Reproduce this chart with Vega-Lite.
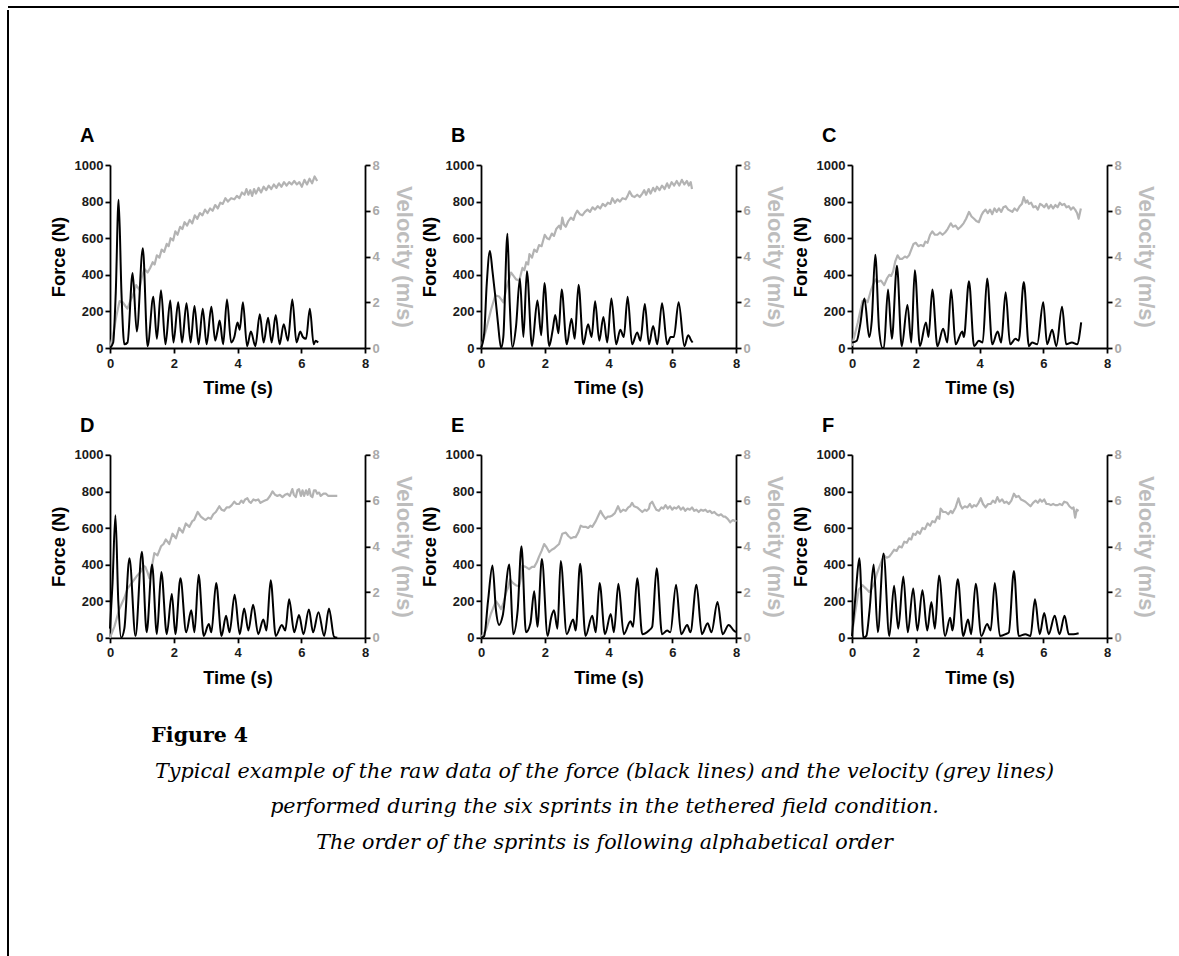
{
  "$schema": "https://vega.github.io/schema/vega-lite/v6.json",
  "padding": {"left": 6, "top": 6, "right": 0, "bottom": 0},
  "background": "white",
  "spacing": 0,
  "datasets": {
    "force": [
      {"p":"A","t":0,"f":0},{"p":"A","t":0.1,"f":30},{"p":"A","t":0.18,"f":300},{"p":"A","t":0.27,"f":810},{"p":"A","t":0.36,"f":300},{"p":"A","t":0.45,"f":20},{"p":"A","t":0.55,"f":30},{"p":"A","t":0.71,"f":410},{"p":"A","t":0.84,"f":90},{"p":"A","t":1.03,"f":545},{"p":"A","t":1.18,"f":10},{"p":"A","t":1.36,"f":280},{"p":"A","t":1.47,"f":50},{"p":"A","t":1.6,"f":315},{"p":"A","t":1.74,"f":20},{"p":"A","t":1.89,"f":260},{"p":"A","t":1.99,"f":30},{"p":"A","t":2.14,"f":250},{"p":"A","t":2.26,"f":30},{"p":"A","t":2.4,"f":245},{"p":"A","t":2.53,"f":30},{"p":"A","t":2.65,"f":230},{"p":"A","t":2.78,"f":20},{"p":"A","t":2.91,"f":215},{"p":"A","t":3.03,"f":20},{"p":"A","t":3.18,"f":225},{"p":"A","t":3.3,"f":40},{"p":"A","t":3.38,"f":100},{"p":"A","t":3.44,"f":150},{"p":"A","t":3.55,"f":20},{"p":"A","t":3.67,"f":265},{"p":"A","t":3.8,"f":30},{"p":"A","t":3.9,"f":60},{"p":"A","t":4.0,"f":140},{"p":"A","t":4.07,"f":100},{"p":"A","t":4.17,"f":250},{"p":"A","t":4.3,"f":10},{"p":"A","t":4.42,"f":90},{"p":"A","t":4.56,"f":10},{"p":"A","t":4.7,"f":185},{"p":"A","t":4.82,"f":30},{"p":"A","t":4.96,"f":165},{"p":"A","t":5.07,"f":30},{"p":"A","t":5.2,"f":180},{"p":"A","t":5.32,"f":20},{"p":"A","t":5.45,"f":130},{"p":"A","t":5.58,"f":40},{"p":"A","t":5.72,"f":265},{"p":"A","t":5.85,"f":30},{"p":"A","t":5.97,"f":90},{"p":"A","t":6.05,"f":60},{"p":"A","t":6.15,"f":50},{"p":"A","t":6.27,"f":215},{"p":"A","t":6.39,"f":20},{"p":"A","t":6.45,"f":40},{"p":"A","t":6.53,"f":30},
      {"p":"B","t":0,"f":0},{"p":"B","t":0.1,"f":80},{"p":"B","t":0.18,"f":350},{"p":"B","t":0.28,"f":530},{"p":"B","t":0.36,"f":420},{"p":"B","t":0.45,"f":280},{"p":"B","t":0.53,"f":140},{"p":"B","t":0.63,"f":0},{"p":"B","t":0.7,"f":60},{"p":"B","t":0.83,"f":625},{"p":"B","t":0.9,"f":250},{"p":"B","t":0.99,"f":5},{"p":"B","t":1.1,"f":120},{"p":"B","t":1.22,"f":380},{"p":"B","t":1.33,"f":60},{"p":"B","t":1.44,"f":420},{"p":"B","t":1.6,"f":10},{"p":"B","t":1.77,"f":260},{"p":"B","t":1.89,"f":70},{"p":"B","t":1.99,"f":355},{"p":"B","t":2.14,"f":10},{"p":"B","t":2.25,"f":100},{"p":"B","t":2.33,"f":180},{"p":"B","t":2.43,"f":80},{"p":"B","t":2.53,"f":320},{"p":"B","t":2.69,"f":20},{"p":"B","t":2.84,"f":160},{"p":"B","t":2.94,"f":50},{"p":"B","t":3.06,"f":345},{"p":"B","t":3.21,"f":20},{"p":"B","t":3.36,"f":130},{"p":"B","t":3.47,"f":60},{"p":"B","t":3.58,"f":255},{"p":"B","t":3.71,"f":40},{"p":"B","t":3.84,"f":170},{"p":"B","t":3.96,"f":30},{"p":"B","t":4.09,"f":270},{"p":"B","t":4.24,"f":20},{"p":"B","t":4.37,"f":100},{"p":"B","t":4.48,"f":60},{"p":"B","t":4.6,"f":280},{"p":"B","t":4.74,"f":20},{"p":"B","t":4.9,"f":85},{"p":"B","t":5.0,"f":40},{"p":"B","t":5.14,"f":240},{"p":"B","t":5.27,"f":20},{"p":"B","t":5.4,"f":120},{"p":"B","t":5.53,"f":20},{"p":"B","t":5.68,"f":245},{"p":"B","t":5.84,"f":20},{"p":"B","t":5.95,"f":60},{"p":"B","t":6.05,"f":60},{"p":"B","t":6.2,"f":250},{"p":"B","t":6.38,"f":10},{"p":"B","t":6.5,"f":70},{"p":"B","t":6.6,"f":40},{"p":"B","t":6.64,"f":30},
      {"p":"C","t":0,"f":30},{"p":"C","t":0.15,"f":40},{"p":"C","t":0.25,"f":120},{"p":"C","t":0.39,"f":270},{"p":"C","t":0.54,"f":60},{"p":"C","t":0.62,"f":150},{"p":"C","t":0.73,"f":510},{"p":"C","t":0.85,"f":100},{"p":"C","t":0.96,"f":0},{"p":"C","t":1.0,"f":0},{"p":"C","t":1.13,"f":320},{"p":"C","t":1.25,"f":50},{"p":"C","t":1.41,"f":450},{"p":"C","t":1.56,"f":10},{"p":"C","t":1.74,"f":235},{"p":"C","t":1.86,"f":30},{"p":"C","t":1.97,"f":425},{"p":"C","t":2.13,"f":10},{"p":"C","t":2.32,"f":140},{"p":"C","t":2.4,"f":60},{"p":"C","t":2.52,"f":320},{"p":"C","t":2.68,"f":10},{"p":"C","t":2.86,"f":105},{"p":"C","t":2.99,"f":30},{"p":"C","t":3.11,"f":320},{"p":"C","t":3.25,"f":20},{"p":"C","t":3.46,"f":90},{"p":"C","t":3.51,"f":60},{"p":"C","t":3.67,"f":365},{"p":"C","t":3.83,"f":10},{"p":"C","t":3.98,"f":40},{"p":"C","t":4.1,"f":30},{"p":"C","t":4.24,"f":380},{"p":"C","t":4.4,"f":20},{"p":"C","t":4.57,"f":90},{"p":"C","t":4.68,"f":30},{"p":"C","t":4.82,"f":305},{"p":"C","t":4.96,"f":20},{"p":"C","t":5.13,"f":50},{"p":"C","t":5.23,"f":40},{"p":"C","t":5.39,"f":360},{"p":"C","t":5.55,"f":10},{"p":"C","t":5.65,"f":30},{"p":"C","t":5.81,"f":20},{"p":"C","t":6.0,"f":250},{"p":"C","t":6.12,"f":20},{"p":"C","t":6.28,"f":100},{"p":"C","t":6.41,"f":10},{"p":"C","t":6.59,"f":225},{"p":"C","t":6.72,"f":20},{"p":"C","t":6.9,"f":30},{"p":"C","t":7.06,"f":20},{"p":"C","t":7.19,"f":140},
      {"p":"D","t":0,"f":50},{"p":"D","t":0.08,"f":300},{"p":"D","t":0.17,"f":670},{"p":"D","t":0.26,"f":200},{"p":"D","t":0.35,"f":0},{"p":"D","t":0.45,"f":50},{"p":"D","t":0.61,"f":435},{"p":"D","t":0.8,"f":10},{"p":"D","t":1.0,"f":470},{"p":"D","t":1.15,"f":30},{"p":"D","t":1.32,"f":400},{"p":"D","t":1.47,"f":20},{"p":"D","t":1.61,"f":360},{"p":"D","t":1.78,"f":20},{"p":"D","t":1.94,"f":240},{"p":"D","t":2.05,"f":20},{"p":"D","t":2.21,"f":325},{"p":"D","t":2.39,"f":30},{"p":"D","t":2.55,"f":150},{"p":"D","t":2.65,"f":30},{"p":"D","t":2.78,"f":345},{"p":"D","t":2.94,"f":10},{"p":"D","t":3.1,"f":75},{"p":"D","t":3.18,"f":30},{"p":"D","t":3.33,"f":300},{"p":"D","t":3.5,"f":10},{"p":"D","t":3.64,"f":120},{"p":"D","t":3.75,"f":30},{"p":"D","t":3.91,"f":235},{"p":"D","t":4.07,"f":20},{"p":"D","t":4.21,"f":160},{"p":"D","t":4.34,"f":40},{"p":"D","t":4.49,"f":180},{"p":"D","t":4.65,"f":20},{"p":"D","t":4.81,"f":100},{"p":"D","t":4.91,"f":40},{"p":"D","t":5.04,"f":315},{"p":"D","t":5.2,"f":10},{"p":"D","t":5.39,"f":70},{"p":"D","t":5.5,"f":40},{"p":"D","t":5.62,"f":210},{"p":"D","t":5.78,"f":30},{"p":"D","t":5.93,"f":125},{"p":"D","t":6.07,"f":20},{"p":"D","t":6.24,"f":155},{"p":"D","t":6.37,"f":30},{"p":"D","t":6.54,"f":140},{"p":"D","t":6.72,"f":10},{"p":"D","t":6.87,"f":160},{"p":"D","t":7.03,"f":5},{"p":"D","t":7.13,"f":0},
      {"p":"E","t":0,"f":0},{"p":"E","t":0.1,"f":10},{"p":"E","t":0.22,"f":200},{"p":"E","t":0.36,"f":395},{"p":"E","t":0.47,"f":150},{"p":"E","t":0.57,"f":70},{"p":"E","t":0.68,"f":120},{"p":"E","t":0.89,"f":400},{"p":"E","t":1.01,"f":20},{"p":"E","t":1.15,"f":150},{"p":"E","t":1.27,"f":500},{"p":"E","t":1.41,"f":30},{"p":"E","t":1.55,"f":80},{"p":"E","t":1.67,"f":255},{"p":"E","t":1.77,"f":60},{"p":"E","t":1.91,"f":430},{"p":"E","t":2.09,"f":10},{"p":"E","t":2.2,"f":110},{"p":"E","t":2.29,"f":150},{"p":"E","t":2.4,"f":50},{"p":"E","t":2.5,"f":420},{"p":"E","t":2.69,"f":20},{"p":"E","t":2.89,"f":100},{"p":"E","t":2.97,"f":40},{"p":"E","t":3.11,"f":405},{"p":"E","t":3.28,"f":10},{"p":"E","t":3.49,"f":120},{"p":"E","t":3.6,"f":30},{"p":"E","t":3.72,"f":300},{"p":"E","t":3.89,"f":20},{"p":"E","t":4.07,"f":130},{"p":"E","t":4.17,"f":30},{"p":"E","t":4.31,"f":295},{"p":"E","t":4.48,"f":20},{"p":"E","t":4.69,"f":90},{"p":"E","t":4.77,"f":60},{"p":"E","t":4.9,"f":325},{"p":"E","t":5.06,"f":20},{"p":"E","t":5.27,"f":40},{"p":"E","t":5.37,"f":60},{"p":"E","t":5.51,"f":380},{"p":"E","t":5.68,"f":20},{"p":"E","t":5.84,"f":40},{"p":"E","t":5.94,"f":30},{"p":"E","t":6.12,"f":290},{"p":"E","t":6.28,"f":20},{"p":"E","t":6.47,"f":70},{"p":"E","t":6.57,"f":30},{"p":"E","t":6.76,"f":290},{"p":"E","t":6.93,"f":20},{"p":"E","t":7.11,"f":80},{"p":"E","t":7.23,"f":30},{"p":"E","t":7.42,"f":195},{"p":"E","t":7.58,"f":20},{"p":"E","t":7.77,"f":70},{"p":"E","t":7.93,"f":40},{"p":"E","t":8.0,"f":30},
      {"p":"F","t":0,"f":10},{"p":"F","t":0.12,"f":250},{"p":"F","t":0.23,"f":435},{"p":"F","t":0.36,"f":0},{"p":"F","t":0.45,"f":10},{"p":"F","t":0.55,"f":150},{"p":"F","t":0.68,"f":400},{"p":"F","t":0.81,"f":30},{"p":"F","t":0.99,"f":460},{"p":"F","t":1.17,"f":10},{"p":"F","t":1.32,"f":285},{"p":"F","t":1.45,"f":50},{"p":"F","t":1.61,"f":335},{"p":"F","t":1.75,"f":30},{"p":"F","t":1.92,"f":270},{"p":"F","t":2.05,"f":40},{"p":"F","t":2.21,"f":260},{"p":"F","t":2.36,"f":40},{"p":"F","t":2.49,"f":195},{"p":"F","t":2.6,"f":50},{"p":"F","t":2.73,"f":340},{"p":"F","t":2.92,"f":10},{"p":"F","t":3.08,"f":110},{"p":"F","t":3.15,"f":40},{"p":"F","t":3.32,"f":320},{"p":"F","t":3.49,"f":10},{"p":"F","t":3.64,"f":100},{"p":"F","t":3.74,"f":20},{"p":"F","t":3.88,"f":295},{"p":"F","t":4.06,"f":10},{"p":"F","t":4.24,"f":75},{"p":"F","t":4.35,"f":40},{"p":"F","t":4.48,"f":300},{"p":"F","t":4.64,"f":10},{"p":"F","t":4.82,"f":20},{"p":"F","t":4.92,"f":30},{"p":"F","t":5.08,"f":365},{"p":"F","t":5.23,"f":10},{"p":"F","t":5.44,"f":20},{"p":"F","t":5.6,"f":10},{"p":"F","t":5.74,"f":210},{"p":"F","t":5.89,"f":20},{"p":"F","t":6.03,"f":135},{"p":"F","t":6.17,"f":20},{"p":"F","t":6.36,"f":120},{"p":"F","t":6.51,"f":20},{"p":"F","t":6.67,"f":120},{"p":"F","t":6.8,"f":20},{"p":"F","t":6.95,"f":20},{"p":"F","t":7.11,"f":25}
    ],
    "vel": [
      {"p":"A","t":0,"v":0},{"p":"A","t":0.1,"v":0.6},{"p":"A","t":0.2,"v":1.4},{"p":"A","t":0.3,"v":2.05},{"p":"A","t":0.4,"v":2.0},{"p":"A","t":0.5,"v":1.8},{"p":"A","t":0.55,"v":1.72},{"p":"A","t":0.65,"v":2.1},{"p":"A","t":0.72,"v":2.3},{"p":"A","t":0.82,"v":2.75},{"p":"A","t":0.92,"v":2.55},{"p":"A","t":1.0,"v":3.1},{"p":"A","t":1.08,"v":3.45},{"p":"A","t":1.18,"v":3.3},{"p":"A","t":1.26,"v":3.5},{"p":"A","t":1.34,"v":3.75},{"p":"A","t":1.4,"v":3.65},{"p":"A","t":1.47,"v":4.05},{"p":"A","t":1.55,"v":3.95},{"p":"A","t":1.62,"v":4.3},{"p":"A","t":1.7,"v":4.2},{"p":"A","t":1.78,"v":4.55},{"p":"A","t":1.84,"v":4.45},{"p":"A","t":1.9,"v":4.8},{"p":"A","t":1.98,"v":4.7},{"p":"A","t":2.05,"v":5.1},{"p":"A","t":2.12,"v":4.95},{"p":"A","t":2.2,"v":5.3},{"p":"A","t":2.27,"v":5.2},{"p":"A","t":2.34,"v":5.5},{"p":"A","t":2.42,"v":5.35},{"p":"A","t":2.5,"v":5.6},{"p":"A","t":2.58,"v":5.45},{"p":"A","t":2.66,"v":5.8},{"p":"A","t":2.74,"v":5.65},{"p":"A","t":2.82,"v":5.9},{"p":"A","t":2.9,"v":5.8},{"p":"A","t":2.98,"v":6.05},{"p":"A","t":3.06,"v":5.9},{"p":"A","t":3.14,"v":6.1},{"p":"A","t":3.22,"v":6.0},{"p":"A","t":3.3,"v":6.25},{"p":"A","t":3.38,"v":6.1},{"p":"A","t":3.46,"v":6.35},{"p":"A","t":3.54,"v":6.3},{"p":"A","t":3.62,"v":6.55},{"p":"A","t":3.7,"v":6.4},{"p":"A","t":3.8,"v":6.55},{"p":"A","t":3.9,"v":6.5},{"p":"A","t":3.98,"v":6.65},{"p":"A","t":4.06,"v":6.55},{"p":"A","t":4.14,"v":6.8},{"p":"A","t":4.22,"v":6.7},{"p":"A","t":4.28,"v":6.95},{"p":"A","t":4.34,"v":6.7},{"p":"A","t":4.4,"v":6.9},{"p":"A","t":4.46,"v":6.65},{"p":"A","t":4.52,"v":6.95},{"p":"A","t":4.58,"v":6.75},{"p":"A","t":4.66,"v":7.0},{"p":"A","t":4.74,"v":6.8},{"p":"A","t":4.82,"v":7.05},{"p":"A","t":4.9,"v":6.9},{"p":"A","t":4.98,"v":7.1},{"p":"A","t":5.06,"v":6.95},{"p":"A","t":5.14,"v":7.15},{"p":"A","t":5.22,"v":7.0},{"p":"A","t":5.3,"v":7.2},{"p":"A","t":5.38,"v":7.05},{"p":"A","t":5.46,"v":7.25},{"p":"A","t":5.54,"v":7.1},{"p":"A","t":5.62,"v":7.25},{"p":"A","t":5.7,"v":7.15},{"p":"A","t":5.78,"v":7.3},{"p":"A","t":5.86,"v":7.15},{"p":"A","t":5.94,"v":7.25},{"p":"A","t":6.02,"v":7.05},{"p":"A","t":6.1,"v":7.35},{"p":"A","t":6.18,"v":7.15},{"p":"A","t":6.26,"v":7.4},{"p":"A","t":6.34,"v":7.2},{"p":"A","t":6.42,"v":7.5},{"p":"A","t":6.5,"v":7.3},
      {"p":"B","t":0,"v":0},{"p":"B","t":0.16,"v":0.8},{"p":"B","t":0.31,"v":1.65},{"p":"B","t":0.45,"v":2.3},{"p":"B","t":0.57,"v":2.25},{"p":"B","t":0.7,"v":2.0},{"p":"B","t":0.83,"v":2.8},{"p":"B","t":0.94,"v":3.3},{"p":"B","t":1.02,"v":3.15},{"p":"B","t":1.1,"v":3.0},{"p":"B","t":1.2,"v":2.95},{"p":"B","t":1.3,"v":3.5},{"p":"B","t":1.36,"v":3.4},{"p":"B","t":1.42,"v":3.75},{"p":"B","t":1.48,"v":3.65},{"p":"B","t":1.52,"v":4.1},{"p":"B","t":1.6,"v":3.95},{"p":"B","t":1.67,"v":4.3},{"p":"B","t":1.75,"v":4.2},{"p":"B","t":1.82,"v":4.5},{"p":"B","t":1.9,"v":4.45},{"p":"B","t":2.0,"v":4.95},{"p":"B","t":2.07,"v":4.8},{"p":"B","t":2.14,"v":4.75},{"p":"B","t":2.22,"v":5.0},{"p":"B","t":2.29,"v":4.9},{"p":"B","t":2.36,"v":5.2},{"p":"B","t":2.45,"v":5.35},{"p":"B","t":2.5,"v":5.2},{"p":"B","t":2.55,"v":5.7},{"p":"B","t":2.6,"v":5.4},{"p":"B","t":2.66,"v":5.3},{"p":"B","t":2.74,"v":5.55},{"p":"B","t":2.82,"v":5.7},{"p":"B","t":2.9,"v":5.6},{"p":"B","t":2.96,"v":5.85},{"p":"B","t":3.02,"v":6.0},{"p":"B","t":3.1,"v":5.85},{"p":"B","t":3.18,"v":5.8},{"p":"B","t":3.26,"v":5.95},{"p":"B","t":3.34,"v":6.05},{"p":"B","t":3.42,"v":5.95},{"p":"B","t":3.5,"v":6.15},{"p":"B","t":3.58,"v":6.05},{"p":"B","t":3.66,"v":6.2},{"p":"B","t":3.74,"v":6.1},{"p":"B","t":3.82,"v":6.3},{"p":"B","t":3.9,"v":6.2},{"p":"B","t":3.98,"v":6.35},{"p":"B","t":4.06,"v":6.3},{"p":"B","t":4.12,"v":6.55},{"p":"B","t":4.2,"v":6.35},{"p":"B","t":4.28,"v":6.5},{"p":"B","t":4.36,"v":6.4},{"p":"B","t":4.44,"v":6.55},{"p":"B","t":4.54,"v":6.5},{"p":"B","t":4.6,"v":6.65},{"p":"B","t":4.66,"v":6.85},{"p":"B","t":4.74,"v":6.65},{"p":"B","t":4.82,"v":6.6},{"p":"B","t":4.9,"v":6.7},{"p":"B","t":4.98,"v":6.6},{"p":"B","t":5.06,"v":6.75},{"p":"B","t":5.12,"v":6.9},{"p":"B","t":5.18,"v":6.7},{"p":"B","t":5.26,"v":6.95},{"p":"B","t":5.32,"v":6.75},{"p":"B","t":5.4,"v":7.0},{"p":"B","t":5.46,"v":6.85},{"p":"B","t":5.52,"v":7.05},{"p":"B","t":5.6,"v":6.9},{"p":"B","t":5.68,"v":7.1},{"p":"B","t":5.76,"v":6.95},{"p":"B","t":5.84,"v":7.2},{"p":"B","t":5.9,"v":7.0},{"p":"B","t":5.98,"v":7.25},{"p":"B","t":6.06,"v":7.1},{"p":"B","t":6.14,"v":7.3},{"p":"B","t":6.22,"v":7.1},{"p":"B","t":6.3,"v":7.35},{"p":"B","t":6.38,"v":7.15},{"p":"B","t":6.46,"v":7.3},{"p":"B","t":6.52,"v":7.1},{"p":"B","t":6.58,"v":7.25},{"p":"B","t":6.62,"v":6.95},
      {"p":"C","t":0,"v":0.1},{"p":"C","t":0.18,"v":1.1},{"p":"C","t":0.33,"v":2.05},{"p":"C","t":0.42,"v":2.1},{"p":"C","t":0.49,"v":2.0},{"p":"C","t":0.59,"v":2.5},{"p":"C","t":0.67,"v":2.8},{"p":"C","t":0.75,"v":3.0},{"p":"C","t":0.83,"v":2.9},{"p":"C","t":0.91,"v":2.95},{"p":"C","t":1.01,"v":2.75},{"p":"C","t":1.1,"v":3.05},{"p":"C","t":1.17,"v":3.2},{"p":"C","t":1.23,"v":3.15},{"p":"C","t":1.29,"v":3.35},{"p":"C","t":1.36,"v":3.8},{"p":"C","t":1.43,"v":4.05},{"p":"C","t":1.5,"v":3.9},{"p":"C","t":1.58,"v":3.9},{"p":"C","t":1.66,"v":4.0},{"p":"C","t":1.72,"v":3.95},{"p":"C","t":1.79,"v":4.05},{"p":"C","t":1.86,"v":4.3},{"p":"C","t":1.93,"v":4.55},{"p":"C","t":2.0,"v":4.6},{"p":"C","t":2.08,"v":4.45},{"p":"C","t":2.16,"v":4.5},{"p":"C","t":2.24,"v":4.45},{"p":"C","t":2.3,"v":4.65},{"p":"C","t":2.37,"v":4.6},{"p":"C","t":2.45,"v":4.95},{"p":"C","t":2.52,"v":5.1},{"p":"C","t":2.6,"v":4.95},{"p":"C","t":2.68,"v":4.95},{"p":"C","t":2.76,"v":5.05},{"p":"C","t":2.84,"v":4.95},{"p":"C","t":2.92,"v":5.05},{"p":"C","t":3.0,"v":5.2},{"p":"C","t":3.1,"v":5.45},{"p":"C","t":3.17,"v":5.3},{"p":"C","t":3.25,"v":5.35},{"p":"C","t":3.33,"v":5.2},{"p":"C","t":3.41,"v":5.3},{"p":"C","t":3.5,"v":5.45},{"p":"C","t":3.58,"v":5.65},{"p":"C","t":3.67,"v":5.95},{"p":"C","t":3.75,"v":5.75},{"p":"C","t":3.83,"v":5.65},{"p":"C","t":3.9,"v":5.55},{"p":"C","t":3.98,"v":5.5},{"p":"C","t":4.06,"v":5.8},{"p":"C","t":4.12,"v":5.95},{"p":"C","t":4.19,"v":6.05},{"p":"C","t":4.26,"v":5.9},{"p":"C","t":4.33,"v":6.05},{"p":"C","t":4.4,"v":5.85},{"p":"C","t":4.47,"v":6.1},{"p":"C","t":4.54,"v":5.95},{"p":"C","t":4.61,"v":6.1},{"p":"C","t":4.68,"v":5.95},{"p":"C","t":4.75,"v":6.15},{"p":"C","t":4.82,"v":6.2},{"p":"C","t":4.9,"v":6.05},{"p":"C","t":4.97,"v":6.0},{"p":"C","t":5.03,"v":5.95},{"p":"C","t":5.1,"v":6.1},{"p":"C","t":5.18,"v":6.0},{"p":"C","t":5.26,"v":6.2},{"p":"C","t":5.33,"v":6.3},{"p":"C","t":5.39,"v":6.6},{"p":"C","t":5.45,"v":6.35},{"p":"C","t":5.5,"v":6.45},{"p":"C","t":5.55,"v":6.3},{"p":"C","t":5.62,"v":6.35},{"p":"C","t":5.69,"v":6.15},{"p":"C","t":5.76,"v":6.2},{"p":"C","t":5.83,"v":6.05},{"p":"C","t":5.9,"v":6.3},{"p":"C","t":5.96,"v":6.25},{"p":"C","t":6.03,"v":6.15},{"p":"C","t":6.1,"v":6.3},{"p":"C","t":6.17,"v":6.1},{"p":"C","t":6.24,"v":6.25},{"p":"C","t":6.31,"v":6.1},{"p":"C","t":6.38,"v":6.25},{"p":"C","t":6.45,"v":6.15},{"p":"C","t":6.52,"v":6.35},{"p":"C","t":6.59,"v":6.25},{"p":"C","t":6.66,"v":6.3},{"p":"C","t":6.73,"v":6.15},{"p":"C","t":6.8,"v":6.2},{"p":"C","t":6.87,"v":6.05},{"p":"C","t":6.94,"v":6.15},{"p":"C","t":7.0,"v":6.05},{"p":"C","t":7.06,"v":5.9},{"p":"C","t":7.11,"v":5.65},{"p":"C","t":7.18,"v":6.1},
      {"p":"D","t":0,"v":0},{"p":"D","t":0.14,"v":0.5},{"p":"D","t":0.29,"v":1.25},{"p":"D","t":0.45,"v":1.75},{"p":"D","t":0.55,"v":2.15},{"p":"D","t":0.63,"v":2.3},{"p":"D","t":0.71,"v":2.45},{"p":"D","t":0.84,"v":2.7},{"p":"D","t":0.97,"v":2.9},{"p":"D","t":1.05,"v":3.15},{"p":"D","t":1.11,"v":3.1},{"p":"D","t":1.18,"v":2.85},{"p":"D","t":1.24,"v":2.6},{"p":"D","t":1.3,"v":3.0},{"p":"D","t":1.39,"v":3.7},{"p":"D","t":1.49,"v":3.6},{"p":"D","t":1.6,"v":4.0},{"p":"D","t":1.68,"v":4.1},{"p":"D","t":1.75,"v":4.3},{"p":"D","t":1.86,"v":4.1},{"p":"D","t":1.96,"v":4.55},{"p":"D","t":2.07,"v":4.35},{"p":"D","t":2.17,"v":4.8},{"p":"D","t":2.28,"v":4.6},{"p":"D","t":2.38,"v":5.0},{"p":"D","t":2.49,"v":4.85},{"p":"D","t":2.58,"v":5.1},{"p":"D","t":2.64,"v":5.15},{"p":"D","t":2.75,"v":5.5},{"p":"D","t":2.85,"v":5.3},{"p":"D","t":2.94,"v":5.2},{"p":"D","t":3.0,"v":5.15},{"p":"D","t":3.08,"v":5.25},{"p":"D","t":3.16,"v":5.2},{"p":"D","t":3.24,"v":5.4},{"p":"D","t":3.32,"v":5.5},{"p":"D","t":3.43,"v":5.75},{"p":"D","t":3.5,"v":5.6},{"p":"D","t":3.58,"v":5.55},{"p":"D","t":3.66,"v":5.7},{"p":"D","t":3.74,"v":5.7},{"p":"D","t":3.82,"v":5.8},{"p":"D","t":3.9,"v":5.95},{"p":"D","t":3.97,"v":5.85},{"p":"D","t":4.05,"v":5.85},{"p":"D","t":4.12,"v":6.0},{"p":"D","t":4.18,"v":5.9},{"p":"D","t":4.24,"v":6.05},{"p":"D","t":4.31,"v":6.1},{"p":"D","t":4.37,"v":5.95},{"p":"D","t":4.42,"v":5.9},{"p":"D","t":4.5,"v":6.05},{"p":"D","t":4.57,"v":6.0},{"p":"D","t":4.65,"v":6.05},{"p":"D","t":4.72,"v":5.9},{"p":"D","t":4.78,"v":5.95},{"p":"D","t":4.86,"v":6.0},{"p":"D","t":4.94,"v":6.05},{"p":"D","t":5.02,"v":6.2},{"p":"D","t":5.1,"v":6.4},{"p":"D","t":5.18,"v":6.25},{"p":"D","t":5.25,"v":6.2},{"p":"D","t":5.33,"v":6.25},{"p":"D","t":5.41,"v":6.15},{"p":"D","t":5.49,"v":6.25},{"p":"D","t":5.57,"v":6.3},{"p":"D","t":5.64,"v":6.2},{"p":"D","t":5.72,"v":6.5},{"p":"D","t":5.77,"v":6.25},{"p":"D","t":5.83,"v":6.15},{"p":"D","t":5.88,"v":6.45},{"p":"D","t":5.93,"v":6.5},{"p":"D","t":5.99,"v":6.2},{"p":"D","t":6.04,"v":6.45},{"p":"D","t":6.09,"v":6.2},{"p":"D","t":6.15,"v":6.45},{"p":"D","t":6.2,"v":6.25},{"p":"D","t":6.25,"v":6.5},{"p":"D","t":6.3,"v":6.2},{"p":"D","t":6.35,"v":6.15},{"p":"D","t":6.4,"v":6.45},{"p":"D","t":6.45,"v":6.45},{"p":"D","t":6.5,"v":6.3},{"p":"D","t":6.56,"v":6.35},{"p":"D","t":6.61,"v":6.2},{"p":"D","t":6.7,"v":6.3},{"p":"D","t":6.77,"v":6.3},{"p":"D","t":6.85,"v":6.2},{"p":"D","t":6.92,"v":6.2},{"p":"D","t":7.0,"v":6.2},{"p":"D","t":7.13,"v":6.2},
      {"p":"E","t":0,"v":0},{"p":"E","t":0.16,"v":0.35},{"p":"E","t":0.31,"v":1.05},{"p":"E","t":0.47,"v":1.6},{"p":"E","t":0.55,"v":1.45},{"p":"E","t":0.63,"v":1.25},{"p":"E","t":0.7,"v":1.5},{"p":"E","t":0.78,"v":1.95},{"p":"E","t":0.85,"v":2.2},{"p":"E","t":0.91,"v":2.55},{"p":"E","t":1.0,"v":2.4},{"p":"E","t":1.09,"v":2.3},{"p":"E","t":1.2,"v":2.25},{"p":"E","t":1.25,"v":2.6},{"p":"E","t":1.3,"v":3.15},{"p":"E","t":1.4,"v":3.1},{"p":"E","t":1.51,"v":3.0},{"p":"E","t":1.6,"v":3.1},{"p":"E","t":1.67,"v":3.1},{"p":"E","t":1.75,"v":3.3},{"p":"E","t":1.82,"v":3.55},{"p":"E","t":1.9,"v":3.8},{"p":"E","t":1.98,"v":4.1},{"p":"E","t":2.06,"v":3.95},{"p":"E","t":2.14,"v":3.75},{"p":"E","t":2.22,"v":3.85},{"p":"E","t":2.29,"v":3.9},{"p":"E","t":2.37,"v":4.0},{"p":"E","t":2.45,"v":4.1},{"p":"E","t":2.55,"v":4.55},{"p":"E","t":2.66,"v":4.6},{"p":"E","t":2.74,"v":4.45},{"p":"E","t":2.82,"v":4.35},{"p":"E","t":2.9,"v":4.4},{"p":"E","t":2.97,"v":4.4},{"p":"E","t":3.05,"v":4.6},{"p":"E","t":3.13,"v":4.9},{"p":"E","t":3.2,"v":4.85},{"p":"E","t":3.28,"v":4.85},{"p":"E","t":3.36,"v":4.8},{"p":"E","t":3.43,"v":4.9},{"p":"E","t":3.49,"v":4.85},{"p":"E","t":3.6,"v":5.1},{"p":"E","t":3.7,"v":5.4},{"p":"E","t":3.75,"v":5.55},{"p":"E","t":3.83,"v":5.35},{"p":"E","t":3.91,"v":5.2},{"p":"E","t":3.98,"v":5.3},{"p":"E","t":4.05,"v":5.3},{"p":"E","t":4.12,"v":5.35},{"p":"E","t":4.2,"v":5.45},{"p":"E","t":4.3,"v":5.75},{"p":"E","t":4.38,"v":5.5},{"p":"E","t":4.46,"v":5.6},{"p":"E","t":4.54,"v":5.55},{"p":"E","t":4.62,"v":5.7},{"p":"E","t":4.68,"v":5.75},{"p":"E","t":4.74,"v":5.9},{"p":"E","t":4.8,"v":5.75},{"p":"E","t":4.9,"v":5.7},{"p":"E","t":4.98,"v":5.6},{"p":"E","t":5.06,"v":5.5},{"p":"E","t":5.14,"v":5.6},{"p":"E","t":5.2,"v":5.55},{"p":"E","t":5.27,"v":5.65},{"p":"E","t":5.3,"v":5.85},{"p":"E","t":5.37,"v":5.95},{"p":"E","t":5.44,"v":5.75},{"p":"E","t":5.5,"v":5.6},{"p":"E","t":5.58,"v":5.55},{"p":"E","t":5.66,"v":5.7},{"p":"E","t":5.72,"v":5.65},{"p":"E","t":5.79,"v":5.8},{"p":"E","t":5.86,"v":5.65},{"p":"E","t":5.93,"v":5.75},{"p":"E","t":6.0,"v":5.6},{"p":"E","t":6.06,"v":5.7},{"p":"E","t":6.13,"v":5.65},{"p":"E","t":6.2,"v":5.75},{"p":"E","t":6.27,"v":5.6},{"p":"E","t":6.34,"v":5.7},{"p":"E","t":6.41,"v":5.55},{"p":"E","t":6.48,"v":5.65},{"p":"E","t":6.55,"v":5.6},{"p":"E","t":6.62,"v":5.7},{"p":"E","t":6.69,"v":5.55},{"p":"E","t":6.76,"v":5.6},{"p":"E","t":6.83,"v":5.5},{"p":"E","t":6.9,"v":5.6},{"p":"E","t":6.97,"v":5.55},{"p":"E","t":7.04,"v":5.6},{"p":"E","t":7.11,"v":5.5},{"p":"E","t":7.18,"v":5.55},{"p":"E","t":7.25,"v":5.45},{"p":"E","t":7.32,"v":5.5},{"p":"E","t":7.39,"v":5.4},{"p":"E","t":7.46,"v":5.35},{"p":"E","t":7.53,"v":5.4},{"p":"E","t":7.6,"v":5.3},{"p":"E","t":7.66,"v":5.3},{"p":"E","t":7.74,"v":5.2},{"p":"E","t":7.82,"v":5.05},{"p":"E","t":7.9,"v":5.15},{"p":"E","t":7.98,"v":5.1},{"p":"E","t":8.0,"v":5.15},
      {"p":"F","t":0,"v":0.2},{"p":"F","t":0.1,"v":1.1},{"p":"F","t":0.21,"v":2.1},{"p":"F","t":0.33,"v":2.3},{"p":"F","t":0.44,"v":2.15},{"p":"F","t":0.54,"v":2.0},{"p":"F","t":0.62,"v":2.15},{"p":"F","t":0.7,"v":2.4},{"p":"F","t":0.78,"v":2.8},{"p":"F","t":0.86,"v":3.1},{"p":"F","t":0.94,"v":3.4},{"p":"F","t":1.01,"v":3.6},{"p":"F","t":1.09,"v":3.5},{"p":"F","t":1.17,"v":3.55},{"p":"F","t":1.25,"v":3.7},{"p":"F","t":1.32,"v":3.85},{"p":"F","t":1.4,"v":3.8},{"p":"F","t":1.48,"v":4.0},{"p":"F","t":1.56,"v":3.95},{"p":"F","t":1.64,"v":4.2},{"p":"F","t":1.72,"v":4.15},{"p":"F","t":1.79,"v":4.35},{"p":"F","t":1.86,"v":4.3},{"p":"F","t":1.92,"v":4.55},{"p":"F","t":1.99,"v":4.5},{"p":"F","t":2.05,"v":4.65},{"p":"F","t":2.13,"v":4.55},{"p":"F","t":2.21,"v":4.8},{"p":"F","t":2.29,"v":4.75},{"p":"F","t":2.37,"v":5.0},{"p":"F","t":2.45,"v":4.9},{"p":"F","t":2.52,"v":5.1},{"p":"F","t":2.6,"v":5.05},{"p":"F","t":2.68,"v":5.3},{"p":"F","t":2.74,"v":5.2},{"p":"F","t":2.78,"v":5.65},{"p":"F","t":2.86,"v":5.5},{"p":"F","t":2.94,"v":5.5},{"p":"F","t":3.02,"v":5.4},{"p":"F","t":3.1,"v":5.55},{"p":"F","t":3.15,"v":5.45},{"p":"F","t":3.25,"v":5.7},{"p":"F","t":3.34,"v":6.1},{"p":"F","t":3.4,"v":5.8},{"p":"F","t":3.46,"v":5.65},{"p":"F","t":3.54,"v":5.75},{"p":"F","t":3.62,"v":5.7},{"p":"F","t":3.7,"v":5.85},{"p":"F","t":3.76,"v":5.7},{"p":"F","t":3.83,"v":5.8},{"p":"F","t":3.9,"v":5.75},{"p":"F","t":3.97,"v":5.9},{"p":"F","t":4.04,"v":6.1},{"p":"F","t":4.11,"v":5.85},{"p":"F","t":4.19,"v":5.7},{"p":"F","t":4.27,"v":5.85},{"p":"F","t":4.35,"v":5.85},{"p":"F","t":4.42,"v":6.0},{"p":"F","t":4.49,"v":5.9},{"p":"F","t":4.56,"v":6.15},{"p":"F","t":4.63,"v":5.95},{"p":"F","t":4.71,"v":6.05},{"p":"F","t":4.78,"v":5.9},{"p":"F","t":4.85,"v":5.95},{"p":"F","t":4.92,"v":5.85},{"p":"F","t":5.0,"v":6.0},{"p":"F","t":5.08,"v":6.3},{"p":"F","t":5.15,"v":6.15},{"p":"F","t":5.23,"v":6.2},{"p":"F","t":5.3,"v":6.05},{"p":"F","t":5.37,"v":6.0},{"p":"F","t":5.44,"v":5.95},{"p":"F","t":5.52,"v":5.85},{"p":"F","t":5.6,"v":5.75},{"p":"F","t":5.68,"v":5.9},{"p":"F","t":5.76,"v":6.0},{"p":"F","t":5.83,"v":5.9},{"p":"F","t":5.9,"v":6.05},{"p":"F","t":5.96,"v":5.95},{"p":"F","t":6.03,"v":6.05},{"p":"F","t":6.1,"v":5.85},{"p":"F","t":6.17,"v":5.85},{"p":"F","t":6.24,"v":5.8},{"p":"F","t":6.31,"v":5.85},{"p":"F","t":6.38,"v":5.8},{"p":"F","t":6.45,"v":5.8},{"p":"F","t":6.52,"v":5.85},{"p":"F","t":6.59,"v":5.8},{"p":"F","t":6.66,"v":5.95},{"p":"F","t":6.75,"v":5.9},{"p":"F","t":6.82,"v":5.75},{"p":"F","t":6.9,"v":5.65},{"p":"F","t":6.95,"v":5.7},{"p":"F","t":7.0,"v":5.25},{"p":"F","t":7.05,"v":5.6},{"p":"F","t":7.11,"v":5.55}
    ],
    "caption": [
      {"i":1,"line":"Typical example of the raw data of the force (black lines) and the velocity (grey lines)"},
      {"i":2,"line":"performed during the six sprints in the tethered field condition."},
      {"i":3,"line":"The order of the sprints is following alphabetical order"}
    ]
  },
  "config": {
    "view": {"stroke": null},
    "axis": {
      "grid": false,
      "domainColor": "black", "domainWidth": 1.8,
      "tickColor": "black", "tickWidth": 1.8, "tickSize": 5,
      "labelFont": "Liberation Sans", "labelFontSize": 13, "labelFontWeight": "bold",
      "labelColor": "#1a1a1a", "labelPadding": 2, "labelFlush": false, "labelOverlap": false,
      "titleFont": "Liberation Sans", "titleFontSize": 18.3, "titleFontWeight": "bold", "titleColor": "black"
    },
    "axisX": {"labelPadding": 4, "titlePadding": 9.3},
    "axisLeft": {"titlePadding": 6},
    "axisRight": {"labelColor": "#a9a9a9", "titleColor": "#bdbdbd", "titleFontSize": 22, "titlePadding": 12},
    "title": {"anchor": "start", "frame": "group", "dx": -30, "offset": 13, "font": "Liberation Sans", "fontSize": 20, "fontWeight": "bold", "color": "black"},
    "line": {"strokeJoin": "round"}
  },
  "vconcat": [
    {
      "width": 1171, "height": 1,
      "view": {"stroke": "black", "strokeWidth": 2, "strokeDash": [1171, 3000]},
      "data": {"values": [{}]},
      "mark": {"type": "rect", "opacity": 0},
      "encoding": {}
    },
    {
      "spacing": 38,
      "hconcat": [
        {
          "width": 1, "height": 945,
          "view": {"stroke": "black", "strokeWidth": 2, "strokeCap": "square", "strokeDash": [0, 947, 945]},
          "data": {"values": [{}]},
          "mark": {"type": "rect", "opacity": 0},
          "encoding": {}
        },
        {
          "spacing": 114,
          "vconcat": [
            {"width": 1, "height": 1, "data": {"values": [{}]}, "mark": {"type": "rect", "opacity": 0}, "encoding": {}},
            {
              "spacing": 38.8,
              "vconcat": [
                {
                  "spacing": 18.8,
                  "vconcat": [
                    {
                      "bounds": "flush",
                      "spacing": 116,
                      "hconcat": [
                        {"width": 255, "height": 183, "title": "A", "resolve": {"scale": {"y": "independent"}}, "layer": [
                          {"data": {"name": "vel"}, "transform": [{"filter": "datum.p == 'A'"}], "mark": {"type": "line", "color": "#b3b3b3", "strokeWidth": 2.2},
                           "encoding": {"x": {"field": "t", "type": "quantitative", "scale": {"domain": [0, 8]}, "axis": {"values": [0, 2, 4, 6, 8], "title": "Time (s)"}},
                                        "y": {"field": "v", "type": "quantitative", "scale": {"domain": [0, 8]}, "axis": {"orient": "right", "values": [0, 2, 4, 6, 8], "title": "Velocity (m/s)"}}}},
                          {"data": {"name": "force"}, "transform": [{"filter": "datum.p == 'A'"}], "mark": {"type": "line", "color": "black", "strokeWidth": 2, "interpolate": "monotone"},
                           "encoding": {"x": {"field": "t", "type": "quantitative"},
                                        "y": {"field": "f", "type": "quantitative", "scale": {"domain": [0, 1000]}, "axis": {"orient": "left", "format": "d", "values": [0, 200, 400, 600, 800, 1000], "title": "Force (N)"}}}}
                        ]},
                        {"width": 255, "height": 183, "title": "B", "resolve": {"scale": {"y": "independent"}}, "layer": [
                          {"data": {"name": "vel"}, "transform": [{"filter": "datum.p == 'B'"}], "mark": {"type": "line", "color": "#b3b3b3", "strokeWidth": 2.2},
                           "encoding": {"x": {"field": "t", "type": "quantitative", "scale": {"domain": [0, 8]}, "axis": {"values": [0, 2, 4, 6, 8], "title": "Time (s)"}},
                                        "y": {"field": "v", "type": "quantitative", "scale": {"domain": [0, 8]}, "axis": {"orient": "right", "values": [0, 2, 4, 6, 8], "title": "Velocity (m/s)"}}}},
                          {"data": {"name": "force"}, "transform": [{"filter": "datum.p == 'B'"}], "mark": {"type": "line", "color": "black", "strokeWidth": 2, "interpolate": "monotone"},
                           "encoding": {"x": {"field": "t", "type": "quantitative"},
                                        "y": {"field": "f", "type": "quantitative", "scale": {"domain": [0, 1000]}, "axis": {"orient": "left", "format": "d", "values": [0, 200, 400, 600, 800, 1000], "title": "Force (N)"}}}}
                        ]},
                        {"width": 255, "height": 183, "title": "C", "resolve": {"scale": {"y": "independent"}}, "layer": [
                          {"data": {"name": "vel"}, "transform": [{"filter": "datum.p == 'C'"}], "mark": {"type": "line", "color": "#b3b3b3", "strokeWidth": 2.2},
                           "encoding": {"x": {"field": "t", "type": "quantitative", "scale": {"domain": [0, 8]}, "axis": {"values": [0, 2, 4, 6, 8], "title": "Time (s)"}},
                                        "y": {"field": "v", "type": "quantitative", "scale": {"domain": [0, 8]}, "axis": {"orient": "right", "values": [0, 2, 4, 6, 8], "title": "Velocity (m/s)"}}}},
                          {"data": {"name": "force"}, "transform": [{"filter": "datum.p == 'C'"}], "mark": {"type": "line", "color": "black", "strokeWidth": 2, "interpolate": "monotone"},
                           "encoding": {"x": {"field": "t", "type": "quantitative"},
                                        "y": {"field": "f", "type": "quantitative", "scale": {"domain": [0, 1000]}, "axis": {"orient": "left", "format": "d", "values": [0, 200, 400, 600, 800, 1000], "title": "Force (N)"}}}}
                        ]}
                      ]
                    },
                    {
                      "bounds": "flush",
                      "spacing": 116,
                      "hconcat": [
                        {"width": 255, "height": 183, "title": "D", "resolve": {"scale": {"y": "independent"}}, "layer": [
                          {"data": {"name": "vel"}, "transform": [{"filter": "datum.p == 'D'"}], "mark": {"type": "line", "color": "#b3b3b3", "strokeWidth": 2.2},
                           "encoding": {"x": {"field": "t", "type": "quantitative", "scale": {"domain": [0, 8]}, "axis": {"values": [0, 2, 4, 6, 8], "title": "Time (s)"}},
                                        "y": {"field": "v", "type": "quantitative", "scale": {"domain": [0, 8]}, "axis": {"orient": "right", "values": [0, 2, 4, 6, 8], "title": "Velocity (m/s)"}}}},
                          {"data": {"name": "force"}, "transform": [{"filter": "datum.p == 'D'"}], "mark": {"type": "line", "color": "black", "strokeWidth": 2, "interpolate": "monotone"},
                           "encoding": {"x": {"field": "t", "type": "quantitative"},
                                        "y": {"field": "f", "type": "quantitative", "scale": {"domain": [0, 1000]}, "axis": {"orient": "left", "format": "d", "values": [0, 200, 400, 600, 800, 1000], "title": "Force (N)"}}}}
                        ]},
                        {"width": 255, "height": 183, "title": "E", "resolve": {"scale": {"y": "independent"}}, "layer": [
                          {"data": {"name": "vel"}, "transform": [{"filter": "datum.p == 'E'"}], "mark": {"type": "line", "color": "#b3b3b3", "strokeWidth": 2.2},
                           "encoding": {"x": {"field": "t", "type": "quantitative", "scale": {"domain": [0, 8]}, "axis": {"values": [0, 2, 4, 6, 8], "title": "Time (s)"}},
                                        "y": {"field": "v", "type": "quantitative", "scale": {"domain": [0, 8]}, "axis": {"orient": "right", "values": [0, 2, 4, 6, 8], "title": "Velocity (m/s)"}}}},
                          {"data": {"name": "force"}, "transform": [{"filter": "datum.p == 'E'"}], "mark": {"type": "line", "color": "black", "strokeWidth": 2, "interpolate": "monotone"},
                           "encoding": {"x": {"field": "t", "type": "quantitative"},
                                        "y": {"field": "f", "type": "quantitative", "scale": {"domain": [0, 1000]}, "axis": {"orient": "left", "format": "d", "values": [0, 200, 400, 600, 800, 1000], "title": "Force (N)"}}}}
                        ]},
                        {"width": 255, "height": 183, "title": "F", "resolve": {"scale": {"y": "independent"}}, "layer": [
                          {"data": {"name": "vel"}, "transform": [{"filter": "datum.p == 'F'"}], "mark": {"type": "line", "color": "#b3b3b3", "strokeWidth": 2.2},
                           "encoding": {"x": {"field": "t", "type": "quantitative", "scale": {"domain": [0, 8]}, "axis": {"values": [0, 2, 4, 6, 8], "title": "Time (s)"}},
                                        "y": {"field": "v", "type": "quantitative", "scale": {"domain": [0, 8]}, "axis": {"orient": "right", "values": [0, 2, 4, 6, 8], "title": "Velocity (m/s)"}}}},
                          {"data": {"name": "force"}, "transform": [{"filter": "datum.p == 'F'"}], "mark": {"type": "line", "color": "black", "strokeWidth": 2, "interpolate": "monotone"},
                           "encoding": {"x": {"field": "t", "type": "quantitative"},
                                        "y": {"field": "f", "type": "quantitative", "scale": {"domain": [0, 1000]}, "axis": {"orient": "left", "format": "d", "values": [0, 200, 400, 600, 800, 1000], "title": "Force (N)"}}}}
                        ]}
                      ]
                    }
                  ]
                },
                {
                  "width": 989, "height": 106.5,
                  "title": {"text": "Figure 4", "font": "DejaVu Serif", "fontSize": 20.5, "fontWeight": "bold", "dx": 41.3, "offset": 7.5},
                  "data": {"name": "caption"},
                  "mark": {"type": "text", "font": "DejaVu Serif", "fontStyle": "italic", "fontSize": 20.7, "color": "black"},
                  "encoding": {
                    "y": {"field": "i", "type": "ordinal", "axis": null},
                    "text": {"field": "line", "type": "nominal"}
                  }
                }
              ]
            }
          ]
        }
      ]
    }
  ]
}
